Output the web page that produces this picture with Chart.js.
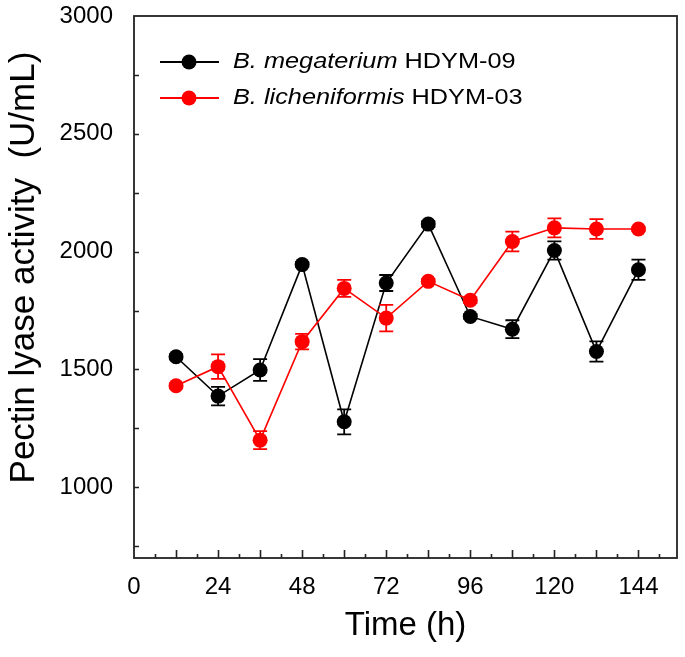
<!DOCTYPE html>
<html>
<head>
<meta charset="utf-8">
<script src="https://cdn.jsdelivr.net/npm/chart.js@4/dist/chart.umd.min.js"></script>
<style>
html,body{margin:0;padding:0;background:#ffffff;}
#wrap{width:685px;height:657px;position:relative;}
</style>
</head>
<body>
<div id="wrap"><canvas id="c" width="685" height="657"></canvas></div>
<script>
// ---- data ----
const times = [12, 24, 36, 48, 60, 72, 84, 96, 108, 120, 132, 144];
const megateriumValues = [1554, 1387, 1498, 1945, 1278, 1867, 2117, 1725, 1671, 2005, 1576, 1923];
const megateriumErrors = [10, 39, 46, 10, 53, 34, 12, 10, 38, 39, 43, 43];
const licheniformisValues = [1431, 1512, 1200, 1618, 1844, 1718, 1874, 1794, 2043, 2101, 2096, 2096];
const licheniformisErrors = [10, 52, 38, 33, 36, 56, 10, 12, 42, 40, 42, 8];
const xTickLabels = [0, 24, 48, 72, 96, 120, 144];
const yTickLabels = [1000, 1500, 2000, 2500, 3000];
const xMinorTicks = [6, 12, 18, 24, 30, 36, 42, 48, 54, 60, 66, 72, 78, 84, 90, 96, 102, 108, 114, 120, 126, 132, 138, 144, 150];
const yMinorTicks = [750, 1000, 1250, 1500, 1750, 2000, 2250, 2500, 2750];
const seriesNames = [
  {italic: 'B. megaterium', plain: ' HDYM-09'},
  {italic: 'B. licheniformis', plain: ' HDYM-03'}
];

const FONT = '"Liberation Sans", Arial, Helvetica, sans-serif';

function toPoints(xs, ys) { return xs.map((x, i) => ({x: x, y: ys[i]})); }

const errorBars = {
  id: 'errorBars',
  beforeDatasetDraw(chart, args) {
    const ds = chart.data.datasets[args.index];
    const errs = ds.errors;
    if (!errs) return;
    const xs = chart.scales.x, ys = chart.scales.y, ctx = chart.ctx;
    ctx.save();
    ctx.strokeStyle = ds.borderColor;
    ctx.lineWidth = 1.8;
    ds.data.forEach((p, i) => {
      const x = xs.getPixelForValue(p.x);
      const yt = ys.getPixelForValue(p.y + errs[i]);
      const yb = ys.getPixelForValue(p.y - errs[i]);
      ctx.beginPath();
      ctx.moveTo(x, yt); ctx.lineTo(x, yb);
      ctx.moveTo(x - 7, yt); ctx.lineTo(x + 7, yt);
      ctx.moveTo(x - 7, yb); ctx.lineTo(x + 7, yb);
      ctx.stroke();
    });
    ctx.restore();
  }
};

const frameTicks = {
  id: 'frameTicks',
  afterDatasetsDraw(chart) {
    const {ctx, chartArea: a} = chart;
    const xs = chart.scales.x, ys = chart.scales.y;
    ctx.save();
    ctx.strokeStyle = '#222222';
    ctx.lineWidth = 1.6;
    ctx.beginPath();
    xMinorTicks.forEach(v => {
      const x = Math.round(xs.getPixelForValue(v)) + 0.5;
      const len = (v % 12 === 0) ? 8 : 4;
      ctx.moveTo(x, a.bottom); ctx.lineTo(x, a.bottom - len);
    });
    yMinorTicks.forEach(v => {
      const y = Math.round(ys.getPixelForValue(v)) + 0.5;
      ctx.moveTo(a.left, y); ctx.lineTo(a.left + 5, y);
    });
    ctx.stroke();
    ctx.lineWidth = 1.8;
    ctx.strokeRect(a.left, a.top, a.right - a.left, a.bottom - a.top);
    ctx.restore();
  }
};

const richLegend = {
  id: 'richLegend',
  afterDraw(chart) {
    const ctx = chart.ctx;
    const rows = [62, 98];
    ctx.save();
    chart.data.datasets.forEach((ds, i) => {
      const y = rows[i];
      ctx.strokeStyle = ds.borderColor;
      ctx.lineWidth = 1.8;
      ctx.beginPath(); ctx.moveTo(160, y); ctx.lineTo(219, y); ctx.stroke();
      ctx.fillStyle = ds.backgroundColor;
      ctx.beginPath(); ctx.arc(189, y, 7.5, 0, Math.PI * 2); ctx.fill();
      ctx.save();
      ctx.translate(233, y);
      ctx.scale(1.15, 1);
      ctx.fillStyle = '#000000';
      ctx.textBaseline = 'middle';
      ctx.textAlign = 'left';
      ctx.font = 'italic 22px ' + FONT;
      ctx.fillText(seriesNames[i].italic, 0, 0);
      const w = ctx.measureText(seriesNames[i].italic).width;
      ctx.font = '22px ' + FONT;
      ctx.fillText(seriesNames[i].plain, w, 0);
      ctx.restore();
    });
    ctx.restore();
  }
};

new Chart(document.getElementById('c'), {
  type: 'line',
  data: {
    datasets: [
      {
        label: seriesNames[0].italic + seriesNames[0].plain,
        data: toPoints(times, megateriumValues),
        errors: megateriumErrors,
        borderColor: '#000000',
        backgroundColor: '#000000',
        borderWidth: 1.6,
        pointRadius: 7.5,
        pointBorderWidth: 0,
        pointBackgroundColor: '#000000',
        tension: 0,
        order: 1
      },
      {
        label: seriesNames[1].italic + seriesNames[1].plain,
        data: toPoints(times, licheniformisValues),
        errors: licheniformisErrors,
        borderColor: '#ff0000',
        backgroundColor: '#ff0000',
        borderWidth: 1.6,
        pointRadius: 7.5,
        pointBorderWidth: 0,
        pointBackgroundColor: '#ff0000',
        tension: 0,
        order: 0
      }
    ]
  },
  options: {
    responsive: false,
    animation: false,
    devicePixelRatio: 1,
    layout: {padding: {left: 0, right: 8, top: 16, bottom: 0}},
    plugins: {legend: {display: false}, tooltip: {enabled: false}},
    scales: {
      x: {
        type: 'linear',
        min: 0,
        max: 155,
        grid: {display: false},
        border: {display: false},
        afterBuildTicks: s => { s.ticks = xTickLabels.map(v => ({value: v})); },
        afterFit: s => { s.height = 99; s.paddingLeft = 0; s.paddingRight = 0; },
        ticks: {
          padding: 7,
          color: '#000000',
          maxRotation: 0,
          autoSkip: false,
          font: {family: FONT, size: 24},
          callback: v => String(v)
        },
        title: {
          display: true,
          text: 'Time (h)',
          color: '#000000',
          font: {family: FONT, size: 33, lineHeight: 1.2},
          padding: {top: 0, bottom: 11}
        }
      },
      y: {
        type: 'linear',
        min: 700,
        max: 3000,
        grid: {display: false},
        border: {display: false},
        afterBuildTicks: s => { s.ticks = yTickLabels.map(v => ({value: v})); },
        afterFit: s => { s.width = 134; s.paddingTop = 0; s.paddingBottom = 0; },
        ticks: {
          padding: 13,
          color: '#000000',
          autoSkip: false,
          font: {family: FONT, size: 24},
          callback: v => String(v)
        },
        title: {
          display: true,
          text: '    Pectin lyase activity  (U/mL)',
          color: '#000000',
          font: {family: FONT, size: 35, lineHeight: 1.2},
          padding: {top: 3, bottom: 0}
        }
      }
    }
  },
  plugins: [errorBars, frameTicks, richLegend]
});
</script>
</body>
</html>
